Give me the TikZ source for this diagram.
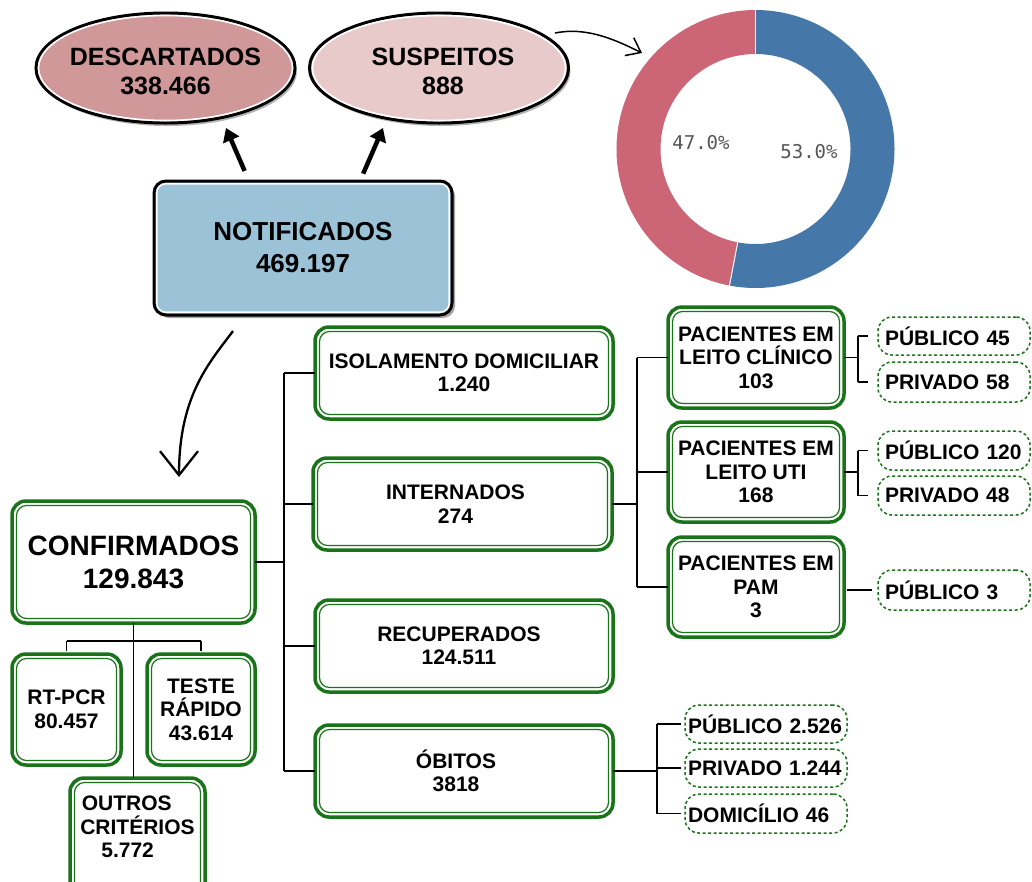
\documentclass[tikz,border=0pt]{standalone}
\usepackage{fontspec}
\setmainfont{Liberation Sans}
\newfontfamily\monof{DejaVu Sans Mono}
\usetikzlibrary{shapes.geometric,arrows.meta,shadows,calc}
\definecolor{gr}{RGB}{25,115,25}
\definecolor{descc}{RGB}{208,152,152}
\definecolor{suspc}{RGB}{232,202,203}
\definecolor{notifc}{RGB}{155,194,214}
\definecolor{donutb}{RGB}{69,119,168}
\definecolor{donutr}{RGB}{204,101,117}
\definecolor{pctc}{RGB}{85,85,85}
\newcommand\fs[2]{\fontsize{#1}{#2}\selectfont\bfseries}
\tikzset{
  gbox/.style={draw=gr, line width=3.5pt, rounded corners=14pt, inner sep=0pt, outer sep=0pt, align=center, font=\fs{21}{23.5}},
  ginner/.style={draw=gr, line width=1.2pt, rounded corners=10pt},
  dbox/.style={draw=gr, line width=1.5pt, dash pattern=on 3pt off 2.5pt, rounded corners=14pt, align=left, inner ysep=0pt, outer sep=0pt, font=\fs{21}{23.5}},
  ell/.style={ellipse, draw=black, line width=3pt, inner sep=0pt, outer sep=0pt, font=\fs{25}{29},
    minimum width=259pt, minimum height=110pt,
    drop shadow={shadow xshift=2pt, shadow yshift=-3pt, opacity=0.3, fill=black}},
  nbox/.style={draw=black, line width=3pt, rounded corners=12pt, fill=notifc, inner sep=0pt, outer sep=0pt,
    align=center, font=\fs{26}{32},
    drop shadow={shadow xshift=3pt, shadow yshift=-3pt, opacity=0.35, fill=black}},
  tree/.style={draw=black, line width=1.6pt},
  bigarr/.style={draw=black, line width=4.5pt, -{Triangle[length=13pt,width=17pt]}},
  thinarr/.style={draw=black, line width=1.5pt, -{Straight Barb[length=13pt,width=20pt]}},
  curvarr/.style={draw=black, line width=2.3pt, -{Straight Barb[length=24pt,width=38pt]}},
  pct/.style={font=\monof\fontsize{19}{22}\selectfont, text=pctc, inner sep=0pt}
}
\newcommand\gnode[6][]{%
  \node[gbox, minimum width=#4, minimum height=#5, #1] (#2) at (#3) {#6};
  \draw[ginner] ([shift={(4.5pt,-4.5pt)}]#2.north west) rectangle ([shift={(-4.5pt,4.5pt)}]#2.south east);}
\begin{document}
\begin{tikzpicture}[x=1pt,y=-1pt]
\useasboundingbox (0,0) rectangle (1032,881);
\clip (0,0) rectangle (1032,881);

% top ellipses
\node[ell, fill=descc] (desc) at (165.5,68) {\makebox[0pt]{\begin{tabular}{@{}c@{}}\rule{0pt}{33pt}DESCARTADOS\\338.466\end{tabular}}};
\draw[white, line width=1.6pt] (desc.center) ellipse [x radius=127pt, y radius=52.5pt];
\node[ell, fill=suspc] (susp) at (439,68) {\makebox[0pt]{\begin{tabular}{@{}c@{}}\rule{0pt}{33pt}\hspace*{8pt}SUSPEITOS\\\hspace*{8pt}888\end{tabular}}};
\draw[white, line width=1.6pt] (susp.center) ellipse [x radius=126.5pt, y radius=52.5pt];

% notificados
\node[nbox, minimum width=298pt, minimum height=134pt] (notif) at (303,248) {NOTIFICADOS\\469.197};
\draw[white, line width=1.5pt, rounded corners=9pt] ([shift={(2.8pt,-2.8pt)}]notif.north west) rectangle ([shift={(-2.8pt,2.8pt)}]notif.south east);

\draw[bigarr, shorten <=11pt] ([xshift=-54pt]notif.north) -- ([shift={(60.5pt,-60pt)}]desc.center);
\draw[bigarr, shorten <=8pt] ([xshift=57pt]notif.north) -- ([shift={(-56pt,-60pt)}]susp.center);

% donut
\coordinate (dc) at (755.5,149);
\fill[donutb] ($(dc)+(90:139pt)$) arc[start angle=90, end angle=-100.8, radius=139pt]
  -- ($(dc)+(-100.8:95pt)$) arc[start angle=-100.8, end angle=90, radius=95pt] -- cycle;
\fill[donutr] ($(dc)+(-100.8:139pt)$) arc[start angle=-100.8, end angle=-270, radius=139pt]
  -- ($(dc)+(90:95pt)$) arc[start angle=90, end angle=259.2, radius=95pt] -- cycle;
\draw[white, line width=1pt] ($(dc)+(90:94pt)$) -- ($(dc)+(90:140pt)$);
\draw[white, line width=1pt] ($(dc)+(-100.8:94pt)$) -- ($(dc)+(-100.8:140pt)$);
\node[pct] (p47) at (701,142.5) {47.0\%};
\node[pct] (p53) at (809,152) {53.0\%};

\draw[thinarr] ([shift={(116pt,35pt)}]susp.center) .. controls (585,27) and (612,38) .. ([shift={(-113.5pt,96pt)}]dc);

% confirmados
\gnode[font=\fs{28}{33}]{conf}{133.5,562}{243pt}{122pt}{CONFIRMADOS\\129.843}
\draw[curvarr] ([shift={(-70pt,-16pt)}]notif.south) .. controls (210,362) and (179,395) .. ([shift={(45.5pt,24pt)}]conf.north);

\gnode{rtpcr}{66.5,709.5}{109pt}{111pt}{RT-PCR\\80.457}
\gnode{teste}{201,709.5}{108pt}{111pt}{TESTE\\RÁPIDO\\43.614}
\gnode[align=left]{outros}{137.5,839}{135pt}{122pt}{\hspace*{1.5pt}OUTROS\\CRITÉRIOS\\\hspace*{21pt}5.772\rule[-24pt]{0pt}{0pt}}

\coordinate (hy) at (0,641);
\draw[tree] (conf.south) -- (conf.south |- outros.north);
\draw[tree] (rtpcr.north |- hy) -- (teste.north |- hy);
\draw[tree] (rtpcr.north |- hy) -- ([yshift=3pt]rtpcr.north);
\draw[tree] (teste.north |- hy) -- ([yshift=3pt]teste.north);

% second column
\gnode{iso}{464,373}{298pt}{92pt}{ISOLAMENTO DOMICILIAR\\1.240}
\gnode{intern}{462.5,504}{299pt}{92pt}{INTERNADOS\hspace*{14pt}\\274\hspace*{14pt}}
\gnode{recup}{464,646}{298pt}{92pt}{RECUPERADOS\hspace*{10pt}\\124.511\hspace*{10pt}}
\gnode{obit}{464,771}{298pt}{92pt}{ÓBITOS\hspace*{16pt}\\3818\hspace*{16pt}}

\coordinate (tx) at (284,0);
\draw[tree] (conf.east) -- (conf.east -| tx);
\draw[tree] (iso.west -| tx) -- (obit.west -| tx);
\foreach \n in {iso,intern,recup,obit} \draw[tree] (\n.west -| tx) -- (\n.west);

% third column
\gnode{clin}{756,357.5}{176pt}{101pt}{PACIENTES EM\\LEITO CLÍNICO\\103}
\gnode{uti}{756,472}{176pt}{100pt}{PACIENTES EM\\LEITO UTI\\168}
\gnode{pam}{756,587}{176pt}{100pt}{PACIENTES EM\\PAM\\3}

\coordinate (tx2) at (637,0);
\draw[tree] (intern.east) -- (intern.east -| tx2);
\draw[tree] (clin.west -| tx2) -- (pam.west -| tx2);
\foreach \n in {clin,uti,pam} \draw[tree] (\n.west -| tx2) -- (\n.west);

% dashed leaves
\node[dbox, inner xsep=7pt, text width=138pt, minimum height=38pt] (pub45) at (954,336) {PÚBLICO 45};
\node[dbox, inner xsep=7pt, text width=138pt, minimum height=40pt] (priv58) at (954,382) {PRIVADO 58};
\node[dbox, inner xsep=7pt, text width=138pt, minimum height=39pt] (pub120) at (954,450.5) {PÚBLICO 120};
\node[dbox, inner xsep=7pt, text width=138pt, minimum height=39pt] (priv48) at (954,495.5) {PRIVADO 48};
\node[dbox, inner xsep=7pt, text width=138pt, minimum height=40pt] (pub3) at (954,590) {PÚBLICO 3};

\coordinate (bx) at (858,0);
\draw[tree] (clin.east) -- (clin.east -| bx);
\draw[tree] (pub45.west -| bx) -- (priv58.west -| bx);
\draw[tree] (pub45.west -| bx) -- ([xshift=-10pt]pub45.west);
\draw[tree] (priv58.west -| bx) -- ([xshift=-10pt]priv58.west);
\draw[tree] (uti.east) -- (uti.east -| bx);
\draw[tree] (pub120.west -| bx) -- (priv48.west -| bx);
\draw[tree] (pub120.west -| bx) -- ([xshift=-10pt]pub120.west);
\draw[tree] (priv48.west -| bx) -- ([xshift=-10pt]priv48.west);
\draw[tree] ([xshift=3pt]pam.east |- pub3.west) -- ([xshift=-6pt]pub3.west);

\node[dbox, inner xsep=3pt, text width=156pt, minimum height=38pt] (pub2526) at (766,724) {PÚBLICO 2.526};
\node[dbox, inner xsep=3pt, text width=156pt, minimum height=38pt] (priv1244) at (766,768) {PRIVADO 1.244};
\node[dbox, inner xsep=3pt, text width=156pt, minimum height=39pt] (domic) at (766,813.5) {DOMICÍLIO 46};

\coordinate (bx3) at (657,0);
\draw[tree] (obit.east) -- (obit.east -| bx3);
\draw[tree] (pub2526.west -| bx3) -- (domic.west -| bx3);
\foreach \n in {pub2526,priv1244,domic} \draw[tree] (\n.west -| bx3) -- ([xshift=-4pt]\n.west);
\end{tikzpicture}
\end{document}
